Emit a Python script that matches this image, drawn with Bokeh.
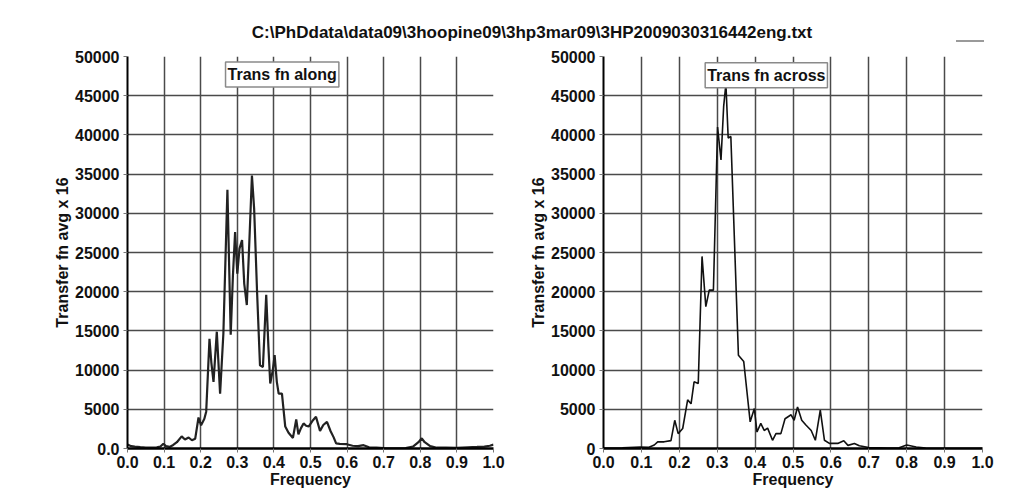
from bokeh.plotting import figure
from bokeh.models import Range1d, FixedTicker, Label, Div
from bokeh.layouts import row, column
from bokeh.embed import file_html
from bokeh.resources import INLINE

# ---------------- data ----------------
file_title = r"C:\PhDdata\data09\3hoopine09\3hp3mar09\3HP2009030316442eng.txt"

along_freq = [0.000, 0.010, 0.020, 0.035, 0.050, 0.065, 0.080, 0.090, 0.098, 0.105,
              0.115, 0.125, 0.135, 0.148, 0.157, 0.167, 0.176, 0.185, 0.194, 0.201,
              0.210, 0.215, 0.224, 0.229, 0.235, 0.244, 0.253, 0.262, 0.273, 0.282,
              0.288, 0.294, 0.300, 0.306, 0.313, 0.319, 0.326, 0.333, 0.340, 0.346,
              0.354, 0.362, 0.370, 0.379, 0.385, 0.390, 0.397, 0.402, 0.408, 0.413,
              0.422, 0.431, 0.440, 0.452, 0.461, 0.467, 0.474, 0.481, 0.488, 0.495,
              0.505, 0.515, 0.526, 0.535, 0.545, 0.555, 0.563, 0.570, 0.580, 0.599,
              0.615, 0.630, 0.645, 0.660, 0.680, 0.700, 0.730, 0.760, 0.780, 0.795,
              0.804, 0.812, 0.827, 0.845, 0.870, 0.900, 0.930, 0.955, 0.975, 0.990,
              1.000]
along_vals = [500, 300, 250, 180, 120, 100, 150, 250, 600, 300,
              200, 450, 800, 1550, 1150, 1400, 1050, 1250, 3950, 2950,
              3800, 4700, 14000, 11000, 8500, 14900, 7000, 14700, 33000, 14500,
              22000, 27600, 22300, 25500, 26600, 21000, 18300, 26500, 34800, 30600,
              20000, 10600, 10400, 19600, 13000, 8300, 10000, 11900, 8500, 7000,
              7000, 2800, 2000, 1350, 3700, 1800, 2600, 3200, 2900, 2800,
              3500, 4050, 2250, 3000, 3400, 2200, 1450, 650, 600, 550,
              350, 300, 420, 150, 100, 50, 30, 60, 250, 800,
              1300, 800, 300, 100, 120, 80, 150, 200, 250, 350,
              500]

across_freq = [0.000, 0.050, 0.097, 0.120, 0.134, 0.143, 0.160, 0.178, 0.188, 0.197,
               0.209, 0.222, 0.231, 0.239, 0.250, 0.260, 0.270, 0.279, 0.290, 0.301,
               0.310, 0.317, 0.323, 0.329, 0.336, 0.356, 0.370, 0.387, 0.398, 0.405,
               0.415, 0.424, 0.433, 0.446, 0.455, 0.468, 0.479, 0.495, 0.503, 0.512,
               0.523, 0.534, 0.548, 0.559, 0.572, 0.583, 0.596, 0.618, 0.634, 0.645,
               0.662, 0.675, 0.700, 0.750, 0.780, 0.800, 0.825, 0.850, 0.900, 1.000]
across_vals = [50, 80, 200, 150, 450, 850, 850, 1000, 3600, 1900,
               2550, 6200, 5700, 8500, 8300, 24500, 18100, 20200, 20200, 41000,
               36800, 43600, 46500, 39600, 39800, 11900, 11100, 3400, 5100, 2100,
               3200, 2300, 2600, 1050, 1900, 1900, 3800, 4300, 3600, 5300,
               3600, 3000, 2300, 1050, 4900, 1050, 650, 650, 1000, 400,
               650, 350, 130, 60, 100, 450, 200, 50, 30, 30]

x_ticks = [0.0, 0.1, 0.2, 0.3, 0.4, 0.5, 0.6, 0.7, 0.8, 0.9, 1.0]
x_tick_labels = ["0.0", "0.1", "0.2", "0.3", "0.4", "0.5", "0.6", "0.7", "0.8", "0.9", "1.0"]
y_ticks = [0, 5000, 10000, 15000, 20000, 25000, 30000, 35000, 40000, 45000, 50000]
y_tick_labels_left = ["0.0", "5000", "10000", "15000", "20000", "25000",
                      "30000", "35000", "40000", "45000", "50000"]
y_tick_labels_right = ["0", "5000", "10000", "15000", "20000", "25000",
                       "30000", "35000", "40000", "45000", "50000"]

x_label = "Frequency"
y_label = "Transfer fn avg x 16"
legend_left = "Trans fn along"
legend_right = "Trans fn across"

FONT = "Liberation Sans"


def make_plot(width, height, mb_left, mb_right, mb_top, mb_bottom, ylabels):
    p = figure(width=width, height=height, output_backend="svg", toolbar_location=None,
               x_range=Range1d(0, 1), y_range=Range1d(0, 50000),
               min_border_left=mb_left, min_border_right=mb_right,
               min_border_top=mb_top, min_border_bottom=mb_bottom)
    p.background_fill_color = "white"
    p.border_fill_color = "white"
    p.outline_line_color = None

    p.xaxis.ticker = FixedTicker(ticks=x_ticks)
    p.yaxis.ticker = FixedTicker(ticks=y_ticks)
    p.xaxis.major_label_overrides = {t: l for t, l in zip(x_ticks, x_tick_labels)}
    p.yaxis.major_label_overrides = {t: l for t, l in zip(y_ticks, ylabels)}

    for ax in (p.xaxis, p.yaxis):
        ax.minor_tick_line_color = None
        ax.major_tick_in = 0
        ax.major_tick_out = 4
        ax.major_tick_line_color = "#777777"
        ax.axis_line_color = "black"
        ax.major_label_text_font = FONT
        ax.major_label_text_font_style = "bold"
        ax.major_label_text_font_size = "16px"
        ax.major_label_text_color = "#111111"
        ax.axis_label_text_font = FONT
        ax.axis_label_text_font_style = "bold"
        ax.axis_label_text_font_size = "16px"
        ax.axis_label_text_color = "#111111"
        ax.major_label_standoff = 4
        ax.axis_label_standoff = 1
    p.xaxis.major_label_standoff = 3
    p.xaxis.axis_label_standoff = 0
    p.yaxis.axis_line_width = 2
    p.xaxis.axis_line_width = 2.5
    p.xaxis.axis_label = x_label
    p.yaxis.axis_label = y_label

    p.xgrid.ticker = FixedTicker(ticks=x_ticks[1:-1])
    p.ygrid.ticker = FixedTicker(ticks=y_ticks[1:])
    for g in (p.xgrid, p.ygrid):
        g.grid_line_color = "#4a4a4a"
        g.grid_line_width = 1.5
    return p


p1 = make_plot(518, 444, 127, 25, 8, 44, y_tick_labels_left)
p1.line(along_freq, along_vals, line_color="#222222", line_width=2.2)
p1.add_layout(Label(x=0.4227, y=47700, text=legend_left, text_align="center",
                    text_baseline="middle", text_font=FONT, text_font_style="bold",
                    text_font_size="16px", text_color="#111111",
                    background_fill_color="white", border_line_color="#8a8a8a",
                    border_line_width=1.5, padding=(2, 4)))

p2 = make_plot(483, 444, 85, 19, 8, 44, y_tick_labels_right)
p2.line(across_freq, across_vals, line_color="#111111", line_width=1.6)
p2.add_layout(Label(x=0.4296, y=47600, text=legend_right, text_align="center",
                    text_baseline="middle", text_font=FONT, text_font_style="bold",
                    text_font_size="16px", text_color="#111111",
                    background_fill_color="white", border_line_color="#8a8a8a",
                    border_line_width=1.5, padding=(2, 4)))

header_html = (
    '<div style="position:relative;width:993px;height:38px;">'
    '<div style="font:bold 17px \'Liberation Sans\', Arial, sans-serif;color:#111;'
    'text-align:center;padding-left:61px;padding-top:19px;line-height:18px;'
    'white-space:nowrap;">' + file_title + '</div>'
    '<div style="position:absolute;left:951px;top:35px;width:28px;height:2px;'
    'background:#9a9a9a;"></div>'
    '</div>'
)
header = Div(text=header_html, width=993, height=38)

layout = column(header, row(p1, p2))

open("out.html", "w").write(file_html(layout, INLINE))
